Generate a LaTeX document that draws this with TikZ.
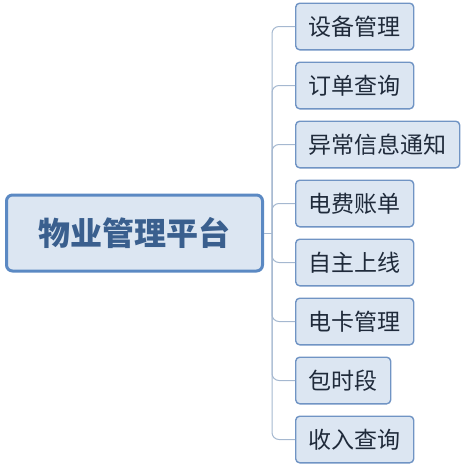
\documentclass[tikz,border=0pt]{standalone}
\usepackage{fontspec}
\setmainfont{Noto Sans CJK SC}
\usetikzlibrary{positioning}
\definecolor{boxfill}{HTML}{DCE6F2}
\definecolor{rootline}{HTML}{5B89C3}
\definecolor{rootink}{HTML}{3A5F8E}
\definecolor{leafline}{HTML}{7094C4}
\definecolor{leafink}{HTML}{1F2A3A}
\definecolor{linkgray}{HTML}{A5B8D0}

\begin{document}
\begin{tikzpicture}[
   node distance=11pt,
   rootbox/.style={draw=rootline, line width=3pt, fill=boxfill, rounded corners=6pt,
      minimum height=76pt, inner xsep=32pt, text=rootink,
      font=\fontsize{32pt}{36pt}\selectfont\bfseries},
   leafbox/.style={draw=leafline, line width=1.4pt, fill=boxfill, rounded corners=4pt,
      minimum height=46.6pt, inner xsep=13pt, text=leafink,
      font=\fontsize{23pt}{26pt}\selectfont},
   link/.style={draw=linkgray, line width=1pt, rounded corners=7pt}
]
\useasboundingbox (0,0) rectangle (468pt,-471pt);
\node[rootbox, anchor=west] (root) at (5pt,-233pt) {物业管理平台};

\node[leafbox, anchor=west] (c1) at (295pt,-26.5pt) {设备管理};
\node[leafbox, below=of c1.south west, anchor=north west] (c2) {订单查询};
\node[leafbox, below=of c2.south west, anchor=north west] (c3) {异常信息通知};
\node[leafbox, below=of c3.south west, anchor=north west] (c4) {电费账单};
\node[leafbox, below=of c4.south west, anchor=north west] (c5) {自主上线};
\node[leafbox, below=of c5.south west, anchor=north west] (c6) {电卡管理};
\node[leafbox, below=of c6.south west, anchor=north west] (c7) {包时段};
\node[leafbox, below=of c7.south west, anchor=north west] (c8) {收入查询};

\coordinate (trunk) at (272pt,-233pt);
\draw[link] (root.east) -- (trunk);
\foreach \c in {c1,c2,c3,c4,c5,c6,c7,c8}
   \draw[link] (trunk) |- (\c.west);
\end{tikzpicture}
\end{document}
